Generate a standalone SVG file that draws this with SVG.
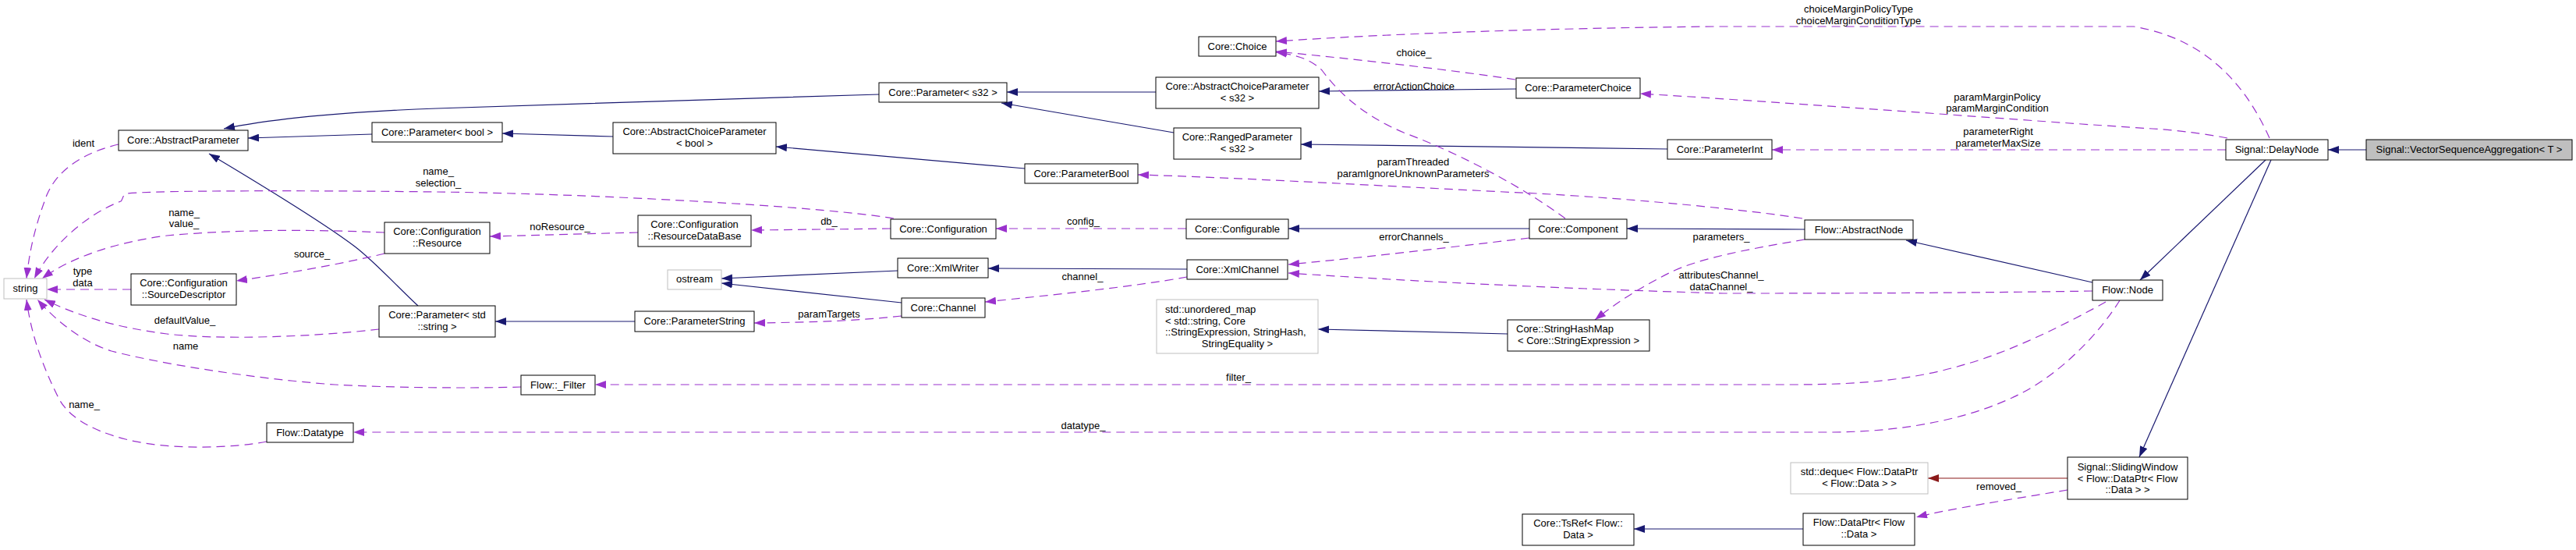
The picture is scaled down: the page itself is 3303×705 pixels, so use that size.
<svg xmlns="http://www.w3.org/2000/svg" width="3303" height="705" viewBox="0 0 3303 705">
<style>
text{font-family:"Liberation Sans",Arial,sans-serif;font-size:13px;fill:#000}
.n rect{fill:#fff;stroke:#000;stroke-width:1}
.g rect{fill:#fff;stroke:#bfbfbf;stroke-width:1}
.f rect{fill:#bfbfbf;stroke:#000;stroke-width:1}
.c{text-anchor:middle}
.b{fill:none;stroke:#191970;stroke-width:1.2;marker-end:url(#ab)}
.r{fill:none;stroke:#8b1a1a;stroke-width:1.2;marker-end:url(#ar)}
.p{fill:none;stroke:#9a32cd;stroke-width:1.2;stroke-dasharray:11,7;marker-end:url(#ap)}
</style>
<defs>
<marker id="ab" viewBox="0 0 14 10" refX="14" refY="5" markerWidth="14" markerHeight="10" markerUnits="userSpaceOnUse" orient="auto"><path d="M0,0L14,5L0,10z" fill="#191970"/></marker>
<marker id="ap" viewBox="0 0 14 10" refX="14" refY="5" markerWidth="14" markerHeight="10" markerUnits="userSpaceOnUse" orient="auto"><path d="M0,0L14,5L0,10z" fill="#9a32cd"/></marker>
<marker id="ar" viewBox="0 0 14 10" refX="14" refY="5" markerWidth="14" markerHeight="10" markerUnits="userSpaceOnUse" orient="auto"><path d="M0,0L14,5L0,10z" fill="#8b1a1a"/></marker>
</defs>
<rect width="3303" height="705" fill="#fff"/>
<g id="connectors">
<path class="b" d="M1127,121 C1000,124 700,135 560,139 C450,143 360,150 287,165"/>
<path class="b" d="M477,172 L318,177"/>
<path class="b" d="M536,392 C510,368 480,335 455,316 C410,282 320,228 268,197"/>
<path class="b" d="M786,175 L644,171"/>
<path class="b" d="M1482,118 L1291,118"/>
<path class="b" d="M1505,170 L1284,132"/>
<path class="b" d="M1314,216 L995,188"/>
<path class="b" d="M1944,114 L1691,117"/>
<path class="b" d="M2138,191 L1668,185"/>
<path class="b" d="M1961,293 L1652,293"/>
<path class="b" d="M2314,294 L2086,293"/>
<path class="b" d="M1522,345 L1267,344"/>
<path class="b" d="M1151,347 L925,357"/>
<path class="b" d="M1156,388 L925,363"/>
<path class="b" d="M814,412 L635,412"/>
<path class="b" d="M1933,428 L1690,422"/>
<path class="b" d="M2683,362 L2444,308"/>
<path class="b" d="M2905,205 L2744,359"/>
<path class="b" d="M2912,205 L2743,586"/>
<path class="b" d="M3034,192 L2985,192"/>
<path class="b" d="M2312,678 L2095,678"/>
<path class="r" d="M2651,613 L2472,613"/>
<path class="p" d="M152,185 C110,195 75,215 60,250 C45,290 38,320 34,357"/>
<path class="p" d="M1146,280 C1050,264 750,248 560,246 C400,244 200,244 162,248 C156,252 158,255 155,258 C110,275 66,315 44,357"/>
<path class="p" d="M493,298 C400,294 300,294 214,302 C150,310 90,330 54,357"/>
<path class="p" d="M168,371 L60,371"/>
<path class="p" d="M493,325 C440,338 360,352 303,360"/>
<path class="p" d="M486,422 C400,432 280,436 214,428 C150,420 100,405 57,384"/>
<path class="p" d="M668,496 C600,498 500,497 429,493 C320,485 200,465 143,450 C110,440 75,415 48,384"/>
<path class="p" d="M342,566 C300,574 220,578 161,563 C110,550 85,530 75,510 C55,470 40,430 34,384"/>
<path class="p" d="M818,298 L628,303"/>
<path class="p" d="M1142,293 L963,295"/>
<path class="p" d="M1521,293 L1277,293"/>
<path class="p" d="M1522,355 C1450,368 1350,378 1263,387"/>
<path class="p" d="M1156,405 C1100,411 1050,413 967,414"/>
<path class="p" d="M1961,305 C1850,318 1750,330 1652,339"/>
<path class="p" d="M2683,373 C2500,376 2300,376 2210,376 C2000,370 1800,360 1652,350"/>
<path class="p" d="M2314,307 C2250,318 2180,330 2140,350 C2100,370 2070,390 2045,410"/>
<path class="p" d="M2700,387 C2650,415 2580,450 2520,467 C2450,488 2380,493 2300,493 L763,493"/>
<path class="p" d="M2718,385 C2690,430 2640,480 2590,505 C2530,535 2450,553 2350,554 L453,554"/>
<path class="p" d="M2651,628 C2580,640 2500,652 2457,663"/>
<path class="p" d="M2007,280 C1960,245 1880,200 1800,170 C1740,145 1710,110 1695,90 C1680,75 1660,70 1636,67"/>
<path class="p" d="M1943,102 C1850,88 1720,74 1636,66"/>
<path class="p" d="M2910,177 C2880,110 2830,50 2736,34 L2200,34 C2000,36 1800,42 1636,53"/>
<path class="p" d="M2856,177 C2820,170 2780,166 2760,165 C2600,155 2350,135 2103,120"/>
<path class="p" d="M2854,192 L2272,192"/>
<path class="p" d="M2311,280 C2250,270 2100,255 1971,248 C1800,240 1600,228 1459,224"/>
<g class="c">
<text x="107" y="188">ident</text>
<text x="562" y="224">name_</text><text x="562" y="239">selection_</text>
<text x="236" y="277">name_</text><text x="236" y="291">value_</text>
<text x="106" y="352">type</text><text x="106" y="367">data</text>
<text x="400" y="330">source_</text>
<text x="237" y="415">defaultValue_</text>
<text x="238" y="448">name</text>
<text x="108" y="523">name_</text>
<text x="718" y="295">noResource_</text>
<text x="1063" y="288">db_</text>
<text x="1389" y="288">config_</text>
<text x="1388" y="359">channel_</text>
<text x="1063" y="407">paramTargets</text>
<text x="1813" y="308">errorChannels_</text>
<text x="2207" y="357">attributesChannel_</text><text x="2207" y="372">dataChannel_</text>
<text x="2207" y="308">parameters_</text>
<text x="1588" y="488">filter_</text>
<text x="1389" y="550">datatype_</text>
<text x="2563" y="628">removed_</text>
<text x="1813" y="115">errorActionChoice</text>
<text x="1813" y="72">choice_</text>
<text x="2383" y="16">choiceMarginPolicyType</text><text x="2383" y="31">choiceMarginConditionType</text>
<text x="2561" y="129">paramMarginPolicy</text><text x="2561" y="143">paramMarginCondition</text>
<text x="2562" y="173">parameterRight</text><text x="2562" y="188">parameterMaxSize</text>
<text x="1812" y="212">paramThreaded</text><text x="1812" y="227">paramIgnoreUnknownParameters</text>
</g>
</g>
<g id="n_string" class="g"><rect x="5" y="357" width="55" height="26"/><text class="c" x="32.5" y="374">string</text></g>
<g id="n_abstractparameter" class="n"><rect x="152" y="167" width="166" height="26"/><text class="c" x="235" y="184">Core::AbstractParameter</text></g>
<g id="n_sourcedescriptor" class="n"><rect x="168" y="351" width="135" height="40"/><text class="c" x="235.5" y="367">Core::Configuration</text><text class="c" x="235.5" y="382">::SourceDescriptor</text></g>
<g id="n_resource" class="n"><rect x="493" y="285" width="135" height="40"/><text class="c" x="560.5" y="301">Core::Configuration</text><text class="c" x="560.5" y="316">::Resource</text></g>
<g id="n_parameter_bool" class="n"><rect x="477" y="157" width="167" height="25"/><text class="c" x="560.5" y="174">Core::Parameter&lt; bool &gt;</text></g>
<g id="n_parameter_string" class="n"><rect x="486" y="392" width="149" height="40"/><text class="c" x="560.5" y="408">Core::Parameter&lt; std</text><text class="c" x="560.5" y="423">::string &gt;</text></g>
<g id="n_datatype" class="n"><rect x="342" y="542" width="111" height="25"/><text class="c" x="397.5" y="559">Flow::Datatype</text></g>
<g id="n_acp_bool" class="n"><rect x="786" y="157" width="209" height="40"/><text class="c" x="890.5" y="173">Core::AbstractChoiceParameter</text><text class="c" x="890.5" y="188">&lt; bool &gt;</text></g>
<g id="n_resourcedatabase" class="n"><rect x="818" y="276" width="145" height="40"/><text class="c" x="890.5" y="292">Core::Configuration</text><text class="c" x="890.5" y="307">::ResourceDataBase</text></g>
<g id="n_ostream" class="g"><rect x="856" y="346" width="69" height="25"/><text class="c" x="890.5" y="362">ostream</text></g>
<g id="n_parameterstring" class="n"><rect x="814" y="399" width="153" height="26"/><text class="c" x="890.5" y="416">Core::ParameterString</text></g>
<g id="n_filter" class="n"><rect x="668" y="481" width="95" height="25"/><text class="c" x="715.5" y="498">Flow::_Filter</text></g>
<g id="n_choice" class="n"><rect x="1537" y="47" width="99" height="25"/><text class="c" x="1586.5" y="64">Core::Choice</text></g>
<g id="n_parameter_s32" class="n"><rect x="1127" y="106" width="164" height="25"/><text class="c" x="1209" y="123">Core::Parameter&lt; s32 &gt;</text></g>
<g id="n_acp_s32" class="n"><rect x="1482" y="99" width="209" height="40"/><text class="c" x="1586.5" y="115">Core::AbstractChoiceParameter</text><text class="c" x="1586.5" y="130">&lt; s32 &gt;</text></g>
<g id="n_ranged_s32" class="n"><rect x="1505" y="164" width="163" height="40"/><text class="c" x="1586.5" y="180">Core::RangedParameter</text><text class="c" x="1586.5" y="195">&lt; s32 &gt;</text></g>
<g id="n_parameterbool" class="n"><rect x="1314" y="210" width="145" height="25"/><text class="c" x="1386.5" y="227">Core::ParameterBool</text></g>
<g id="n_configuration" class="n"><rect x="1142" y="281" width="135" height="25"/><text class="c" x="1209.5" y="298">Core::Configuration</text></g>
<g id="n_configurable" class="n"><rect x="1521" y="281" width="131" height="25"/><text class="c" x="1586.5" y="298">Core::Configurable</text></g>
<g id="n_xmlwriter" class="n"><rect x="1151" y="331" width="116" height="25"/><text class="c" x="1209" y="348">Core::XmlWriter</text></g>
<g id="n_xmlchannel" class="n"><rect x="1522" y="333" width="129" height="25"/><text class="c" x="1586.5" y="350">Core::XmlChannel</text></g>
<g id="n_channel" class="n"><rect x="1156" y="382" width="107" height="25"/><text class="c" x="1209.5" y="399">Core::Channel</text></g>
<g id="n_unordered_map" class="g"><rect x="1483" y="384" width="207" height="69"/><text x="1494" y="401">std::unordered_map</text><text x="1494" y="415.5">&lt; std::string, Core</text><text x="1494" y="430">::StringExpression, StringHash,</text><text class="c" x="1586.5" y="445">StringEquality &gt;</text></g>
<g id="n_parameterchoice" class="n"><rect x="1944" y="100" width="159" height="26"/><text class="c" x="2023.5" y="117">Core::ParameterChoice</text></g>
<g id="n_parameterint" class="n"><rect x="2138" y="179" width="134" height="25"/><text class="c" x="2205" y="196">Core::ParameterInt</text></g>
<g id="n_component" class="n"><rect x="1961" y="281" width="125" height="25"/><text class="c" x="2023.5" y="298">Core::Component</text></g>
<g id="n_stringhashmap" class="n"><rect x="1933" y="410" width="182" height="40"/><text x="1944" y="426">Core::StringHashMap</text><text class="c" x="2024" y="441">&lt; Core::StringExpression &gt;</text></g>
<g id="n_tsref" class="n"><rect x="1952" y="659" width="143" height="40"/><text class="c" x="2023.5" y="675">Core::TsRef&lt; Flow::</text><text class="c" x="2023.5" y="690">Data &gt;</text></g>
<g id="n_abstractnode" class="n"><rect x="2314" y="282" width="139" height="25"/><text class="c" x="2383.5" y="299">Flow::AbstractNode</text></g>
<g id="n_node" class="n"><rect x="2683" y="359" width="90" height="26"/><text class="c" x="2728" y="376">Flow::Node</text></g>
<g id="n_deque" class="g"><rect x="2296" y="593" width="176" height="40"/><text class="c" x="2384" y="609">std::deque&lt; Flow::DataPtr</text><text class="c" x="2384" y="624">&lt; Flow::Data &gt; &gt;</text></g>
<g id="n_dataptr" class="n"><rect x="2312" y="658" width="143" height="41"/><text class="c" x="2383.5" y="674">Flow::DataPtr&lt; Flow</text><text class="c" x="2383.5" y="689">::Data &gt;</text></g>
<g id="n_slidingwindow" class="n"><rect x="2651" y="586" width="154" height="54"/><text class="c" x="2728" y="603">Signal::SlidingWindow</text><text class="c" x="2728" y="618">&lt; Flow::DataPtr&lt; Flow</text><text class="c" x="2728" y="632">::Data &gt; &gt;</text></g>
<g id="n_delaynode" class="n"><rect x="2854" y="179" width="131" height="26"/><text class="c" x="2919.5" y="196">Signal::DelayNode</text></g>
<g id="n_vsa" class="f"><rect x="3034" y="179" width="264" height="26"/><text class="c" x="3166" y="196">Signal::VectorSequenceAggregation&lt; T &gt;</text></g>
</svg>
